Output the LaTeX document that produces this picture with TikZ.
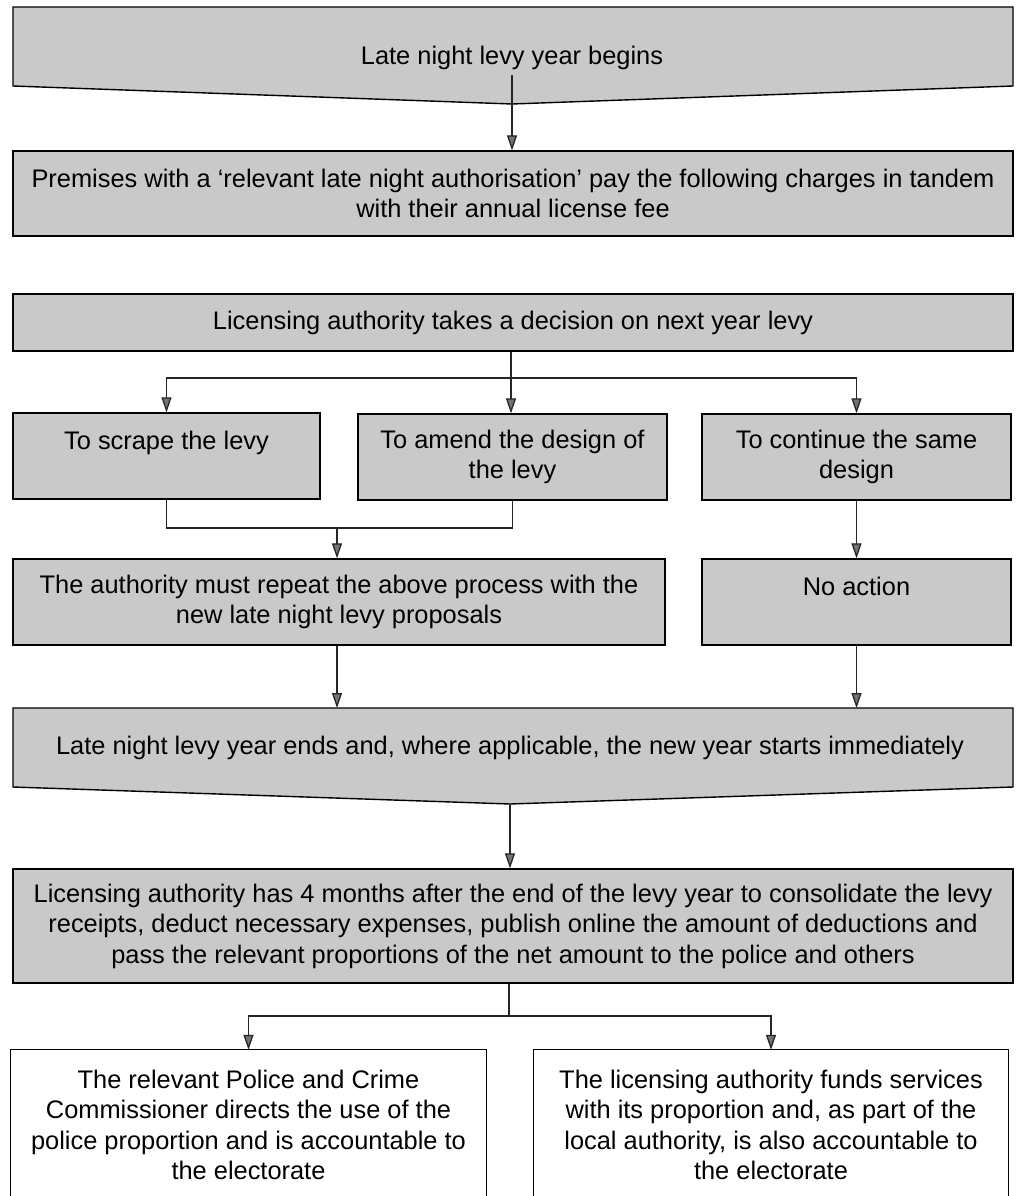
\documentclass[tikz,border=0pt]{standalone}
\usepackage{fontspec}
\setmainfont{Liberation Sans}
\usetikzlibrary{arrows.meta,calc}
\definecolor{boxgray}{gray}{0.79}
\definecolor{tipgray}{gray}{0.45}
\begin{document}
\begin{tikzpicture}[x=1pt,y=-1pt,
  every node/.style={font=\fontsize{25.4}{30.5}\selectfont, align=center, inner sep=0pt},
  gbox/.style={draw=black, line width=1.4pt, fill=boxgray},
  wbox/.style={fill=white},
  edge/.style={line width=1.3pt, draw=black!85},
  arr/.style={edge, -{Triangle[width=10pt,length=15pt,fill=tipgray]}},
  outline/.style={draw=black, line width=1.4pt, fill=boxgray, line join=miter}
]
\useasboundingbox (0,0) rectangle (1015,1196);
\fill[white] (0,0) rectangle (1015,1196);

% Box 1 (pentagon)
\coordinate (b1nw) at (13,7);
\coordinate (b1ne) at (1013,7);
\coordinate (b1se) at (1013,86);
\coordinate (b1sw) at (13,86);
\coordinate (b1tip) at (512,104);
\path[outline] (b1nw) -- (b1ne) -- (b1se) -- (b1tip) -- (b1sw) -- cycle;
\node (t1) at (512,58) {Late night levy year begins};

% Box 2
\node[gbox, minimum width=1000pt, minimum height=85pt] (b2) at (513,193.5)
  {Premises with a ‘relevant late night authorisation’ pay the following charges in tandem\\with their annual license fee};

% Box 3
\node[gbox, minimum width=1000pt, minimum height=57pt] (b3) at (513,322.5)
  {Licensing authority takes a decision on next year levy};

% Row of options
\node[gbox, minimum width=307pt, minimum height=86pt] (b4a) at (166.5,456)
  {To scrape the levy\\\mbox{}};
\node[gbox, minimum width=309pt, minimum height=86pt] (b4b) at (512.5,457)
  {To amend the design of\\the levy};
\node[gbox, minimum width=309pt, minimum height=86pt] (b4c) at (856.5,457)
  {To continue the same\\design};

% Row of outcomes
\node[gbox, minimum width=652pt, minimum height=86pt] (b5) at (339,602)
  {The authority must repeat the above process with the\\new late night levy proposals};
\node[gbox, minimum width=309pt, minimum height=86pt] (b6) at (856.5,602)
  {No action\\\mbox{}};

% Box 7 (pentagon)
\coordinate (b7nw) at (13,708);
\coordinate (b7ne) at (1013,708);
\coordinate (b7se) at (1013,787);
\coordinate (b7sw) at (13,787);
\coordinate (b7tip) at (510,804);
\path[outline] (b7nw) -- (b7ne) -- (b7se) -- (b7tip) -- (b7sw) -- cycle;
\node (t7) at (510,748) {Late night levy year ends and, where applicable, the new year starts immediately};

% Box 8
\node[gbox, minimum width=1000pt, minimum height=114pt] (b8) at (513,926)
  {Licensing authority has 4 months after the end of the levy year to consolidate the levy\\receipts, deduct necessary expenses, publish online the amount of deductions and\\pass the relevant proportions of the net amount to the police and others};

% Bottom (open) boxes
\node[wbox, minimum width=475pt, minimum height=150pt] (b9a) at (248.5,1125)
  {The relevant Police and Crime\\Commissioner directs the use of the\\police proportion and is accountable to\\the electorate};
\node[wbox, minimum width=474pt, minimum height=150pt] (b9b) at (771,1125)
  {The licensing authority funds services\\with its proportion and, as part of the\\local authority, is also accountable to\\the electorate};
\draw[line width=1.3pt] (b9a.south west) -- (b9a.north west) -- (b9a.north east) -- (b9a.south east);
\draw[line width=1.3pt] (b9b.south west) -- (b9b.north west) -- (b9b.north east) -- (b9b.south east);

% Connectors
\draw[arr] ([yshift=-5pt]t1.south) -- (t1.south |- b2.north);

\coordinate (br3) at (511,378);
\draw[edge] (b3.south -| br3) -- (br3);
\draw[arr] (br3) -- (br3 |- b4b.north);
\draw[arr] (br3) -| (b4a.north);
\draw[arr] (br3) -| (b4c.north);

\coordinate (mg) at (337,528);
\draw[edge] (b4a.south) |- (mg) -| (b4b.south);
\draw[arr] (mg) -- (mg |- b5.north);
\draw[arr] (b4c.south) -- (b6.north);

\draw[arr] (mg |- b5.south) -- (mg |- b7nw);
\draw[arr] (b6.south) -- (b6.south |- b7nw);

\draw[arr] (b7tip) -- (b7tip |- b8.north);

\coordinate (br8) at (509,1016);
\draw[edge] (br8 |- b8.south) -- (br8);
\draw[arr] (br8) -| (b9a.north);
\draw[arr] (br8) -| (b9b.north);
\end{tikzpicture}
\end{document}
